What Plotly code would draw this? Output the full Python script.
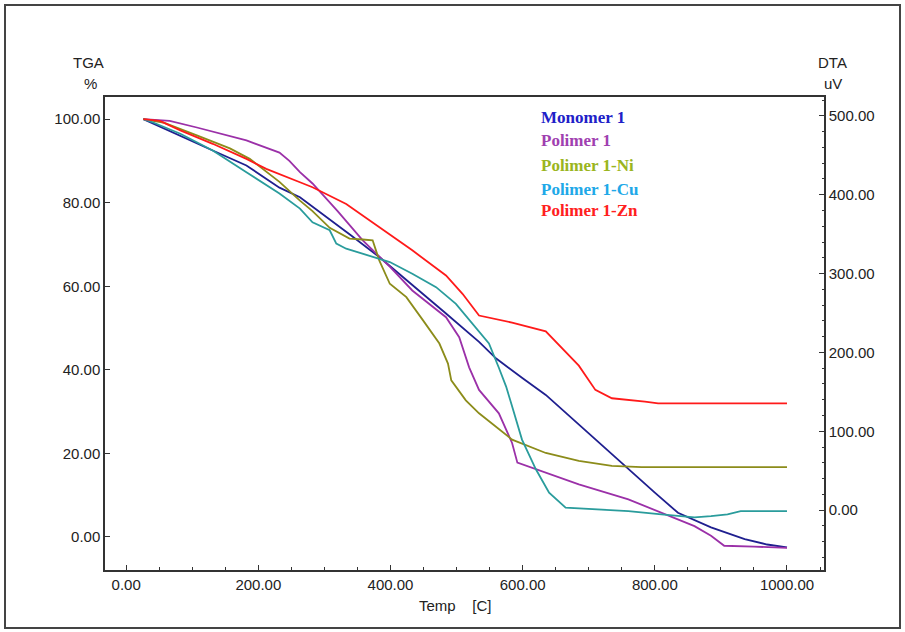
import plotly.graph_objects as go

# ---------------- data ----------------
monomer_T = [26, 41, 82, 131, 182, 232, 263, 300, 340, 383, 433, 484, 534, 560, 600, 635, 700, 760, 800, 835, 885, 936, 970, 1000]
monomer_Y = [100, 98.9, 96, 92.5, 88.9, 83.6, 81.3, 77.0, 72.2, 67, 60.4, 53.5, 46.7, 42.7, 38, 34, 24.8, 16.2, 10.6, 5.8, 2.3, -0.5, -1.8, -2.5]

pol1_T = [26, 66, 107, 157, 182, 232, 247, 263, 282, 320, 358, 400, 433, 484, 504, 519, 534, 564, 584, 592, 635, 685, 760, 810, 860, 885, 905, 950, 1000]
pol1_Y = [100, 99.6, 98, 96, 94.9, 92, 90, 87.3, 84.6, 78, 71, 64.5, 59, 52.6, 47.8, 40.6, 35.2, 29.6, 22.5, 17.8, 15.4, 12.6, 9, 5.8, 2.6, 0.3, -2.1, -2.3, -2.6]

ni_T = [26, 56, 107, 157, 187, 232, 263, 282, 308, 338, 358, 373, 378, 383, 399, 424, 449, 474, 487, 489, 492, 514, 534, 584, 635, 685, 735, 780, 1000]
ni_Y = [100, 99.2, 96.1, 93, 90.5, 85, 80.5, 78, 74, 71.4, 71.2, 71.0, 68.6, 66.2, 60.6, 57.4, 51.9, 46.3, 41.5, 39.5, 37.5, 32.7, 29.6, 23.3, 20.1, 18.2, 17, 16.7, 16.7]

cu_T = [26, 41, 82, 131, 182, 232, 263, 282, 308, 318, 333, 373, 399, 433, 469, 499, 524, 549, 564, 575, 584, 599, 620, 640, 665, 710, 760, 810, 860, 885, 910, 930, 1000]
cu_Y = [100, 99.2, 96.5, 92.5, 87.3, 82.2, 78.6, 75.3, 73.4, 70.2, 69, 67, 65.8, 63, 59.8, 55.8, 51, 46.3, 40.5, 36, 31.3, 23.3, 16.2, 10.6, 7, 6.6, 6.2, 5.4, 4.7, 5, 5.4, 6.2, 6.2]

zn_T = [26, 51, 82, 131, 182, 212, 263, 282, 333, 383, 433, 484, 509, 534, 584, 635, 660, 685, 710, 735, 785, 805, 1000]
zn_Y = [100, 99.6, 97.3, 94.1, 90.5, 88.1, 84.9, 83.7, 79.7, 74.1, 68.6, 62.6, 58.2, 53, 51.3, 49.2, 45, 41, 35.2, 33.2, 32.4, 32, 32]

series_names = ["Monomer 1", "Polimer 1", "Polimer 1-Ni", "Polimer 1-Cu", "Polimer 1-Zn"]
line_colors = ["#1f1f8f", "#9b30a8", "#8c8c1a", "#2a9c9c", "#ff1a1a"]
label_colors = ["#2020c8", "#a040b0", "#9ab520", "#20a8e8", "#ff2020"]

x_ticks = [0, 200, 400, 600, 800, 1000]
tga_ticks = [0, 20, 40, 60, 80, 100]
dta_ticks = [0, 100, 200, 300, 400, 500]

# ---------------- layout geometry ----------------
W, H = 905, 632
L, R, T, B = 105, 81, 97, 62
PW, PH = W - L - R, H - T - B


def px(x):
    return (x - L) / PW


def py(y):
    return (H - B - y) / PH


fig = go.Figure()
all_T = [monomer_T, pol1_T, ni_T, cu_T, zn_T]
all_Y = [monomer_Y, pol1_Y, ni_Y, cu_Y, zn_Y]
for name, tt, yy, col in zip(series_names, all_T, all_Y, line_colors):
    fig.add_trace(go.Scatter(x=tt, y=yy, mode="lines", name=name,
                             line=dict(color=col, width=1.8), showlegend=False))

# empty trace to register DTA axis
fig.add_trace(go.Scatter(x=[None], y=[None], yaxis="y2", showlegend=False, hoverinfo="skip"))

tickfont = dict(family="Liberation Sans, Arial, sans-serif", size=15, color="#222222")
axcol = "#333333"

fig.update_layout(
    width=W, height=H,
    margin=dict(l=L, r=R, t=T, b=B),
    paper_bgcolor="white", plot_bgcolor="white",
    xaxis=dict(range=[-32, 1056], tickvals=x_ticks, ticktext=[f"{v:.2f}" for v in x_ticks],
               ticks="inside", ticklen=5, tickcolor=axcol, showline=True, linecolor=axcol,
               linewidth=1.5, mirror=True, showgrid=False, zeroline=False, tickfont=tickfont,
               minor=dict(dtick=50, tick0=0, ticks="inside", ticklen=3, tickcolor=axcol, showgrid=False)),
    yaxis=dict(range=[-7.9, 105.3], tickvals=tga_ticks, ticktext=[f"{v:.2f}" for v in tga_ticks],
               ticks="inside", ticklen=5, tickcolor=axcol, showline=True, linecolor=axcol,
               linewidth=1.5, showgrid=False, zeroline=False, tickfont=tickfont),
    yaxis2=dict(range=[-76, 524], tickvals=dta_ticks, ticktext=[f"{v:.2f}" for v in dta_ticks],
                overlaying="y", side="right", ticks="inside", ticklen=5, tickcolor=axcol,
                showline=True, linecolor=axcol, linewidth=1.5, showgrid=False, zeroline=False,
                tickfont=tickfont,
                minor=dict(dtick=20, tick0=0, ticks="inside", ticklen=2, tickcolor=axcol, showgrid=False)),
)

# axis titles
title_font = dict(family="Liberation Sans, Arial, sans-serif", size=15, color="#222222")
for text, x, y in [("TGA", 88, 62), ("%", 90, 83), ("DTA", 833, 62), ("uV", 833, 84),
                   ("Temp    [C]", 455, 605)]:
    fig.add_annotation(text=text, x=px(x), y=py(y), xref="paper", yref="paper",
                       showarrow=False, font=title_font, xanchor="center", yanchor="middle")

# legend texts
legend_y = [118, 140, 165, 189, 211]
for name, col, y in zip(series_names, label_colors, legend_y):
    fig.add_annotation(text=f"<b>{name}</b>", x=px(539), y=py(y), xref="paper", yref="paper",
                       showarrow=False, xanchor="left", yanchor="middle",
                       font=dict(family="Liberation Serif, Times New Roman, serif", size=17, color=col))

# outer frame
fig.add_shape(type="rect", xref="paper", yref="paper",
              x0=px(5), x1=px(900), y0=py(628), y1=py(5),
              line=dict(color="#444444", width=2), fillcolor="rgba(0,0,0,0)", layer="below")

fig.write_html("out.html", config={"displayModeBar": False},
               post_script="document.body.style.margin='0';document.body.style.overflow='hidden';")
